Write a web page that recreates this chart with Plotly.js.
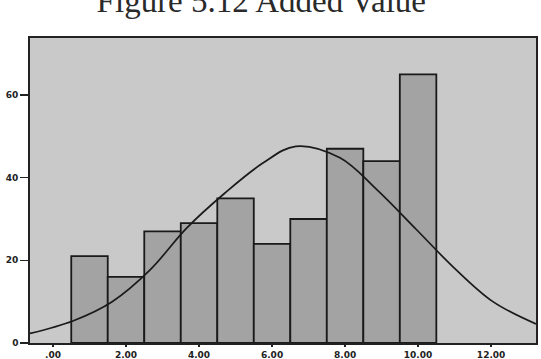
<!DOCTYPE html>
<html>
<head>
<meta charset="utf-8">
<script src="https://cdn.plot.ly/plotly-3.0.1.min.js"></script>
<style>html,body{margin:0;padding:0;background:#fff;}#chart{width:541px;height:359px;}</style>
</head>
<body>
<div id="chart"></div>
<script>
const binCenters = [1, 2, 3, 4, 5, 6, 7, 8, 9, 10];
const counts = [21, 16, 27, 29, 35, 24, 30, 47, 44, 65];
const curveX = [-0.63, 0.56, 1.62, 2.66, 3.66, 4.71, 5.76, 6.65, 7.86, 8.87, 9.96, 10.95, 12.05, 13.23];
const curveY = [2.3, 5.4, 10.0, 17.7, 27.8, 36.3, 43.6, 47.6, 44.8, 37.1, 27.4, 18.5, 10.0, 4.6];
const xTickVals = [0, 2, 4, 6, 8, 10, 12];
const xTickText = ['.00', '2.00', '4.00', '6.00', '8.00', '10.00', '12.00'];
const yTickVals = [0, 20, 40, 60];
const yTickText = ['0', '20', '40', '60'];

const traces = [
  {
    type: 'bar', x: binCenters, y: counts, width: 1,
    marker: {color: '#a3a3a3', line: {color: '#1a1a1a', width: 1.8}},
    hoverinfo: 'skip'
  },
  {
    type: 'scatter', mode: 'lines', x: curveX, y: curveY,
    line: {color: '#1a1a1a', width: 1.7, shape: 'spline', smoothing: 1},
    hoverinfo: 'skip'
  }
];

const layout = {
  width: 541, height: 359,
  margin: {l: 30, r: 5, t: 38, b: 16},
  paper_bgcolor: '#ffffff',
  plot_bgcolor: '#c9c9c9',
  showlegend: false,
  bargap: 0,
  title: {
    text: 'Figure 5.12 Added Value',
    font: {family: 'Liberation Serif, Times New Roman, serif', size: 33, color: '#2a2a2a'},
    x: 0.483, xanchor: 'center',
    yref: 'container', y: 1.0, yanchor: 'middle'
  },
  xaxis: {
    range: [-0.63, 13.23],
    tickvals: xTickVals, ticktext: xTickText,
    ticks: 'outside', ticklen: 2, tickwidth: 1.5, tickcolor: '#222',
    showgrid: false, zeroline: false,
    showline: true, mirror: true, linecolor: '#222', linewidth: 1.8,
    tickfont: {family: 'DejaVu Sans, Arial, sans-serif', size: 9, color: '#222', weight: 'bold'}
  },
  yaxis: {
    range: [0, 73.8],
    tickvals: yTickVals, ticktext: yTickText,
    ticks: 'outside', ticklen: 8, tickwidth: 1.5, tickcolor: '#222',
    showgrid: false, zeroline: false,
    showline: true, mirror: true, linecolor: '#222', linewidth: 1.8,
    tickfont: {family: 'DejaVu Sans, Arial, sans-serif', size: 9, color: '#222', weight: 'bold'}
  }
};

Plotly.newPlot('chart', traces, layout, {staticPlot: true, displayModeBar: false});
</script>
</body>
</html>
